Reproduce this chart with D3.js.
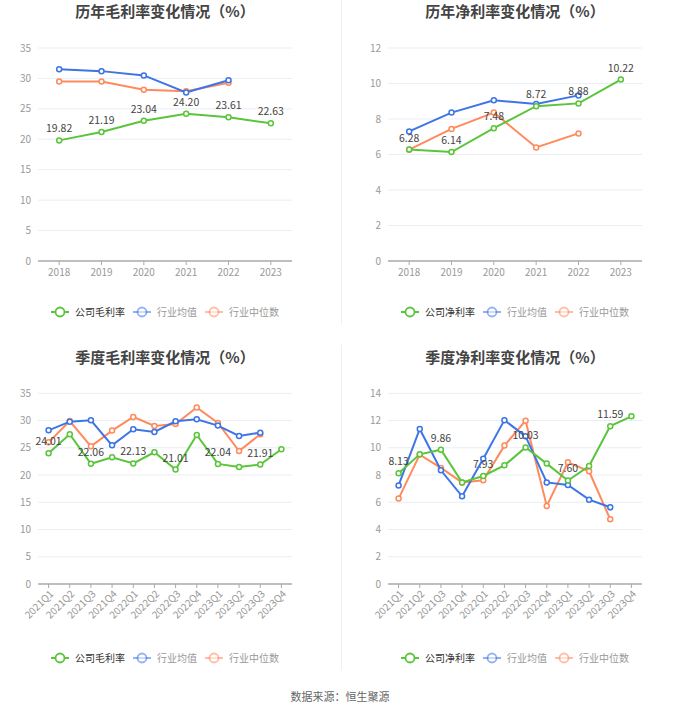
<!DOCTYPE html>
<html>
<head>
<meta charset="utf-8">
<script src="https://cdn.jsdelivr.net/npm/d3@7"></script>
<style>
  body { margin: 0; background: #fff; }
  text { font-family: "Noto Sans CJK SC", "Noto Sans", sans-serif; }
</style>
</head>
<body>
<script>
// annual data
const years = ["2018", "2019", "2020", "2021", "2022", "2023"];
const grossCompany = [19.82, 21.19, 23.04, 24.20, 23.61, 22.63];
const grossMean = [31.5, 31.2, 30.5, 27.7, 29.7, null];
const grossMedian = [29.5, 29.5, 28.15, 27.9, 29.3, null];
const netCompany = [6.28, 6.14, 7.48, 8.72, 8.88, 10.22];
const netMean = [7.3, 8.36, 9.05, 8.85, 9.33, null];
const netMedian = [6.27, 7.44, 8.36, 6.4, 7.19, null];

// quarterly data
const quarters = ["2021Q1", "2021Q2", "2021Q3", "2021Q4", "2022Q1", "2022Q2",
                  "2022Q3", "2022Q4", "2023Q1", "2023Q2", "2023Q3", "2023Q4"];
const qGrossCompany = [24.01, 27.48, 22.06, 23.26, 22.13, 24.17, 21.01, 27.36, 22.04, 21.48, 21.91, 24.72];
const qGrossMean = [28.2, 29.8, 30.05, 25.46, 28.4, 27.9, 29.87, 30.23, 29.07, 27.17, 27.78, null];
const qGrossMedian = [26.0, 29.9, 25.27, 28.15, 30.66, 29.0, 29.37, 32.4, 29.56, 24.4, 27.48, null];
const qNetCompany = [8.13, 9.52, 9.86, 7.46, 7.93, 8.71, 10.03, 8.84, 7.60, 8.66, 11.59, 12.31];
const qNetMean = [7.24, 11.38, 8.35, 6.44, 9.2, 12.03, 10.84, 7.46, 7.27, 6.19, 5.63, null];
const qNetMedian = [6.27, 9.5, 8.52, 7.46, 7.61, 10.16, 11.99, 5.73, 8.93, 8.27, 4.75, null];

// tick labels
const grossTicks = [0, 5, 10, 15, 20, 25, 30, 35];
const netTicks = [0, 2, 4, 6, 8, 10, 12];
const qNetTicks = [0, 2, 4, 6, 8, 10, 12, 14];

const seriesNames = ["行业均值", "行业中位数"];
const colors = { company: "#5ac53a", mean: "#3d74e6", median: "#ff8a5c" };

const w = 680;
const h = 712;

const svg = d3.select("body")
    .append("svg")
    .attr("width", w)
    .attr("height", h);

svg.append("rect").attr("width", w).attr("height", h).attr("fill", "#fff");

// panel dividers
svg.append("line").attr("x1", 341.5).attr("x2", 341.5).attr("y1", 0).attr("y2", 325)
    .attr("stroke", "#f0f0f0").attr("stroke-width", 1);
svg.append("line").attr("x1", 341.5).attr("x2", 341.5).attr("y1", 345).attr("y2", 670)
    .attr("stroke", "#f0f0f0").attr("stroke-width", 1);

function drawPanel(p) {
    const g = svg.append("g");
    const x = d3.scalePoint()
        .domain(p.cats)
        .range([p.left, p.right])
        .padding(0.5);
    const y = d3.scaleLinear()
        .domain([0, d3.max(p.ticks)])
        .range([p.bottom, p.top]);

    g.append("text")
        .attr("x", (p.left + p.right) / 2)
        .attr("y", p.titleY)
        .attr("text-anchor", "middle")
        .attr("font-size", 15)
        .attr("font-weight", "bold")
        .attr("fill", "#444")
        .text(p.title);

    // grid + y labels
    g.selectAll(".grid")
        .data(p.ticks.filter(t => t > 0))
        .enter()
        .append("line")
        .attr("x1", p.left).attr("x2", p.right)
        .attr("y1", d => y(d)).attr("y2", d => y(d))
        .attr("stroke", "#e9edf6");

    g.selectAll(".ylab")
        .data(p.ticks)
        .enter()
        .append("text")
        .attr("x", p.left - 7)
        .attr("y", d => y(d))
        .attr("dy", "0.35em")
        .attr("text-anchor", "end")
        .attr("font-size", 10)
        .attr("fill", "#999")
        .text(d => d);

    // x axis
    g.append("line")
        .attr("x1", p.left).attr("x2", p.right)
        .attr("y1", p.bottom).attr("y2", p.bottom)
        .attr("stroke", "#aaa").attr("stroke-width", 1.5);
    g.selectAll(".xtick")
        .data(p.cats)
        .enter()
        .append("line")
        .attr("x1", d => x(d)).attr("x2", d => x(d))
        .attr("y1", p.bottom).attr("y2", p.bottom + 4)
        .attr("stroke", "#aaa");

    if (p.rotate) {
        g.selectAll(".xlab")
            .data(p.cats)
            .enter()
            .append("text")
            .attr("transform", d => `translate(${x(d) + 3},${p.bottom + 8}) rotate(-45)`)
            .attr("dy", "0.35em")
            .attr("text-anchor", "end")
            .attr("font-size", 10)
            .attr("fill", "#999")
            .text(d => d);
    } else {
        g.selectAll(".xlab")
            .data(p.cats)
            .enter()
            .append("text")
            .attr("x", d => x(d))
            .attr("y", p.bottom + 15)
            .attr("text-anchor", "middle")
            .attr("font-size", 10)
            .attr("fill", "#999")
            .text(d => d);
    }

    const line = d3.line()
        .defined(d => d.v != null)
        .x(d => x(d.c))
        .y(d => y(d.v));

    const series = [
        { vals: p.median, color: colors.median },
        { vals: p.mean, color: colors.mean },
        { vals: p.company, color: colors.company }
    ];

    series.forEach(s => {
        const pts = p.cats.map((c, i) => ({ c: c, v: s.vals[i] }));
        g.append("path")
            .datum(pts)
            .attr("d", line)
            .attr("fill", "none")
            .attr("stroke", s.color)
            .attr("stroke-width", 2);
        g.selectAll(null)
            .data(pts.filter(d => d.v != null))
            .enter()
            .append("circle")
            .attr("cx", d => x(d.c))
            .attr("cy", d => y(d.v))
            .attr("r", 2.5)
            .attr("fill", "#fff")
            .attr("stroke", s.color)
            .attr("stroke-width", 1.5);
    });

    // company labels
    g.selectAll(".vlab")
        .data(p.cats.map((c, i) => ({ c: c, v: p.company[i], i: i }))
            .filter(d => d.i % p.labelEvery === 0))
        .enter()
        .append("text")
        .attr("x", d => x(d.c))
        .attr("y", d => y(d.v) - 8)
        .attr("text-anchor", "middle")
        .attr("font-size", 10.5)
        .attr("fill", "#444")
        .text(d => d.v.toFixed(2));

    // legend
    const items = [
        { name: p.companyName, color: colors.company, op: 1, tc: "#333" },
        { name: seriesNames[0], color: colors.mean, op: 0.55, tc: "#999" },
        { name: seriesNames[1], color: colors.median, op: 0.55, tc: "#999" }
    ];
    const lg = g.append("g");
    let cx = 0;
    items.forEach(it => {
        const ig = lg.append("g");
        ig.append("line")
            .attr("x1", cx).attr("x2", cx + 18)
            .attr("y1", 0).attr("y2", 0)
            .attr("stroke", it.color).attr("stroke-width", 2)
            .attr("opacity", it.op);
        ig.append("circle")
            .attr("cx", cx + 9).attr("cy", 0).attr("r", 4.5)
            .attr("fill", "#fff")
            .attr("stroke", it.color).attr("stroke-width", 1.8)
            .attr("opacity", it.op);
        const t = ig.append("text")
            .attr("x", cx + 24).attr("y", 0)
            .attr("dy", "0.35em")
            .attr("font-size", 10)
            .attr("fill", it.tc)
            .text(it.name);
        cx += 24 + t.node().getComputedTextLength() + 8;
    });
    const lw = cx - 8;
    lg.attr("transform", `translate(${(p.left + p.right) / 2 - lw / 2},${p.legendY})`);
}

drawPanel({
    title: "历年毛利率变化情况（%）", companyName: "公司毛利率",
    cats: years, company: grossCompany, mean: grossMean, median: grossMedian,
    ticks: grossTicks, left: 38, right: 292, top: 48, bottom: 261,
    titleY: 17, legendY: 312, rotate: false, labelEvery: 1
});
drawPanel({
    title: "历年净利率变化情况（%）", companyName: "公司净利率",
    cats: years, company: netCompany, mean: netMean, median: netMedian,
    ticks: netTicks, left: 388, right: 642, top: 48, bottom: 261,
    titleY: 17, legendY: 312, rotate: false, labelEvery: 1
});
drawPanel({
    title: "季度毛利率变化情况（%）", companyName: "公司毛利率",
    cats: quarters, company: qGrossCompany, mean: qGrossMean, median: qGrossMedian,
    ticks: grossTicks, left: 38, right: 292, top: 393.3, bottom: 584,
    titleY: 363, legendY: 658, rotate: true, labelEvery: 2
});
drawPanel({
    title: "季度净利率变化情况（%）", companyName: "公司净利率",
    cats: quarters, company: qNetCompany, mean: qNetMean, median: qNetMedian,
    ticks: qNetTicks, left: 388, right: 642, top: 393.3, bottom: 584,
    titleY: 363, legendY: 658, rotate: true, labelEvery: 2
});

svg.append("text")
    .attr("x", 340)
    .attr("y", 697)
    .attr("dy", "0.35em")
    .attr("text-anchor", "middle")
    .attr("font-size", 11)
    .attr("fill", "#666")
    .text("数据来源：恒生聚源");
</script>
</body>
</html>
